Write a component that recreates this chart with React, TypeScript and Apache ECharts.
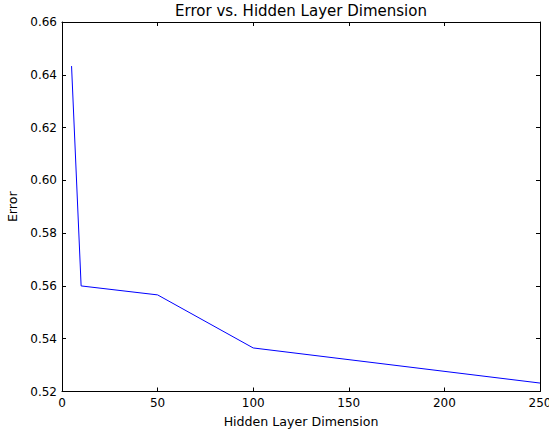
import React, { useEffect, useRef } from "react";
import * as echarts from "echarts";

const hiddenDims = [5, 10, 50, 100, 250];
const errors = [0.6433, 0.56, 0.5566, 0.5365, 0.5232];
const titleText = "Error vs. Hidden Layer Dimension";
const xName = "Hidden Layer Dimension";
const yName = "Error";

export default function App() {
  const ref = useRef<HTMLDivElement>(null);
  useEffect(() => {
    if (!ref.current) return;
    const chart = echarts.init(ref.current, undefined, { renderer: "svg" });
    const font = "DejaVu Sans";
    const axisCommon = {
      axisLine: { show: true, onZero: false, lineStyle: { color: "#000", width: 1 } },
      axisTick: { show: true, inside: true, length: 4, lineStyle: { color: "#000", width: 1 } },
      splitLine: { show: false },
    };
    chart.setOption({
      animation: false,
      backgroundColor: "#fff",
      title: {
        text: titleText,
        left: 301,
        textAlign: "center",
        top: 3,
        padding: 0,
        textStyle: { fontFamily: font, fontSize: 15, fontWeight: "normal", color: "#000" },
      },
      grid: { left: 62, right: 9, top: 22, bottom: 39.5, containLabel: false, outerBoundsMode: "none" },
      xAxis: [
        {
          type: "value",
          min: 0,
          max: 250,
          interval: 50,
          position: "bottom",
          name: xName,
          nameLocation: "middle",
          nameGap: 23,
          nameTextStyle: { fontFamily: font, fontSize: 12.6, color: "#000" },
          axisLabel: { fontFamily: font, fontSize: 12, color: "#000", margin: 5 },
          ...axisCommon,
        },
        {
          type: "value",
          min: 0,
          max: 250,
          interval: 50,
          position: "top",
          axisLabel: { show: false },
          ...axisCommon,
        },
      ],
      yAxis: [
        {
          type: "value",
          min: 0.52,
          max: 0.66,
          interval: 0.02,
          position: "left",
          name: yName,
          nameLocation: "middle",
          nameGap: 36,
          nameRotate: 90,
          nameTextStyle: { fontFamily: font, fontSize: 12.6, color: "#000" },
          axisLabel: {
            fontFamily: font,
            fontSize: 12,
            color: "#000",
            margin: 5,
            formatter: (v: number) => v.toFixed(2),
          },
          ...axisCommon,
        },
        {
          type: "value",
          min: 0.52,
          max: 0.66,
          interval: 0.02,
          position: "right",
          axisLabel: { show: false },
          ...axisCommon,
        },
      ],
      series: [
        {
          type: "line",
          data: hiddenDims.map((d, i) => [d, errors[i]]),
          showSymbol: false,
          symbol: "none",
          lineStyle: { color: "#0000ff", width: 1 },
          xAxisIndex: 0,
          yAxisIndex: 0,
        },
      ],
    });
    return () => chart.dispose();
  }, []);
  return (
    <div
      ref={ref}
      style={{ position: "fixed", left: 0, top: 0, width: 549, height: 431 }}
    />
  );
}
